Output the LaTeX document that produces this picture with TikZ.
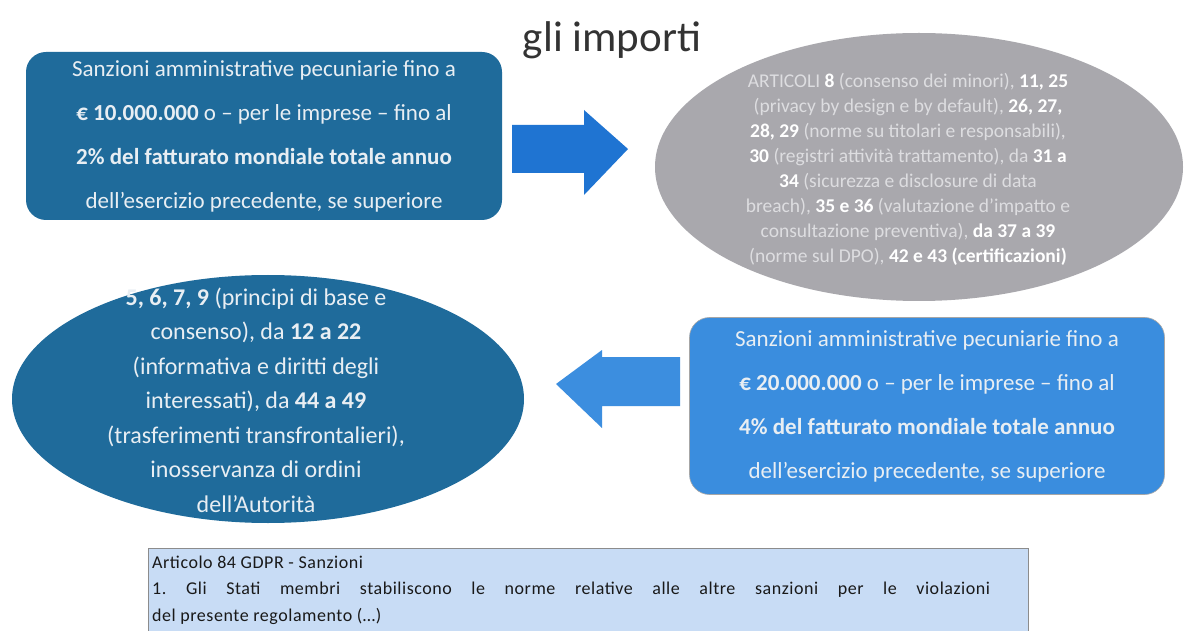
\documentclass[tikz,border=0pt]{standalone}
\usepackage{fontspec}
\setmainfont{Carlito}
\usetikzlibrary{shapes.geometric}
\definecolor{darkblue}{HTML}{1F6B9B}
\definecolor{lightblue}{HTML}{3A8DDE}
\definecolor{arrowblue}{HTML}{1F74D2}
\definecolor{arrowlight}{HTML}{3C8EDF}
\definecolor{grayell}{HTML}{A9A8AD}
\definecolor{offwhite}{HTML}{E8EEF3}
\definecolor{grtext}{HTML}{DDDDE0}
\definecolor{notefill}{HTML}{C8DCF5}
\definecolor{noteborder}{HTML}{8C8C8C}
\frenchspacing
\begin{document}
\begin{tikzpicture}[x=1pt,y=-1pt,
  boxtext/.style={text=offwhite,align=center,font=\fontsize{23}{44}\selectfont,inner sep=0pt},
  rbox/.style={rounded corners=20pt,inner sep=0pt},
  ell/.style={ellipse,inner sep=0pt},
  notetext/.style={anchor=west,font=\fontsize{18}{20}\selectfont\addfontfeature{LetterSpace=3},inner sep=0pt,text=black!90}]
\useasboundingbox (0,0) rectangle (1187,631);
\fill[white] (0,0) rectangle (1187,631);
% title
\node[font=\fontsize{43}{46}\selectfont,text=black!80] (title) at (612,40) {gli importi};
% top-left box
\node[rbox,fill=darkblue,minimum width=476pt,minimum height=168pt] (box1) at (264,136) {};
\node[boxtext] (t1) at (box1.center) {Sanzioni amministrative pecuniarie fino a\\
\textbf{€ 10.000.000} o – per le imprese – fino al\\
\textbf{2\% del fatturato mondiale totale annuo}\\
dell'esercizio precedente, se superiore};
% right arrow
\fill[arrowblue] (512,125) -- (584,125) -- (584,110) -- (628,149) -- (584,195) -- (584,173) -- (512,173) -- cycle;
% gray ellipse
\node[ell,fill=grayell,minimum width=528pt,minimum height=268pt] (ell1) at (919,167) {};
\node[text=grtext,align=center,font=\fontsize{19.5}{25}\selectfont,inner sep=0pt] (t2) at (908,169) {%
ARTICOLI \textbf{\color{white}8} (consenso dei minori), \textbf{\color{white}11, 25}\\
(privacy by design e by default), \textbf{\color{white}26, 27,}\\
\textbf{\color{white}28, 29} (norme su titolari e responsabili),\\
\textbf{\color{white}30} (registri attività trattamento), da \textbf{\color{white}31 a}\\
\textbf{\color{white}34} (sicurezza e disclosure di data\\
breach), \textbf{\color{white}35 e 36} (valutazione d’impatto e\\
consultazione preventiva), \textbf{\color{white}da 37 a 39}\\
(norme sul DPO), \textbf{\color{white}42 e 43 (certificazioni)}};
% dark ellipse
\node[ell,fill=darkblue,minimum width=512pt,minimum height=248pt] (ell2) at (268,399) {};
\node[text=offwhite,align=center,font=\fontsize{24}{34.5}\selectfont,inner sep=0pt] (t3) at (256,400) {%
\textbf{5, 6, 7, 9} (principi di base e\\
consenso), da \textbf{12 a 22}\\
(informativa e diritti degli\\
interessati), da \textbf{44 a 49}\\
(trasferimenti transfrontalieri),\\
inosservanza di ordini\\
dell’Autorità};
% left arrow
\fill[arrowlight] (680,357) -- (602,357) -- (602,350) -- (556,384) -- (602,428) -- (602,406) -- (680,406) -- cycle;
% light box
\node[rbox,fill=lightblue,minimum width=475pt,minimum height=177pt,draw=black!35,line width=0.6pt] (box2) at (927,406) {};
\node[boxtext] (t4) at (box2.center) {Sanzioni amministrative pecuniarie fino a\\
\textbf{€ 20.000.000} o – per le imprese – fino al\\
\textbf{4\% del fatturato mondiale totale annuo}\\
dell'esercizio precedente, se superiore};
% note box
\draw[fill=notefill,draw=noteborder,line width=0.8pt] (148,548) rectangle (1028,640);
\node[notetext] (n1) at (152,562) {Articolo 84 GDPR - Sanzioni};
\node[notetext] (n2) at (152,590) {\makebox[838pt][s]{1. Gli Stati membri stabiliscono le norme relative alle altre sanzioni per le violazioni}};
\node[notetext] (n3) at (152,616) {del presente regolamento (…)};
\end{tikzpicture}
\end{document}
